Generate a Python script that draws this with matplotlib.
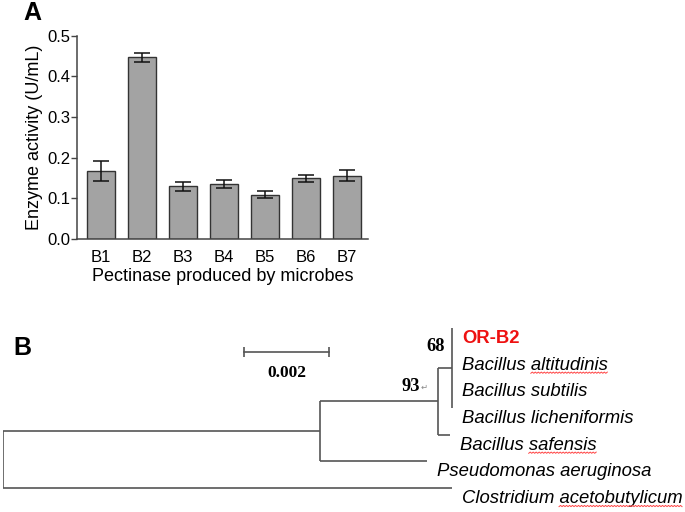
"""Pectinase activity bar chart (A) and 16S phylogenetic tree (B)."""

import matplotlib

matplotlib.use("Agg")
import matplotlib.pyplot as plt
import numpy as np
from matplotlib.lines import Line2D
from matplotlib.transforms import IdentityTransform

plt.rcParams["font.family"] = ["Liberation Sans", "DejaVu Sans"]

# ---- panel A data ----
strains = ["B1", "B2", "B3", "B4", "B5", "B6", "B7"]
activity = [0.168, 0.447, 0.130, 0.136, 0.109, 0.149, 0.156]
activity_err = [0.025, 0.011, 0.011, 0.010, 0.008, 0.008, 0.013]
y_ticks = [0.0, 0.1, 0.2, 0.3, 0.4, 0.5]

# ---- panel B data ----
# leaves top to bottom
leaves = [
    "OR-B2",
    "Bacillus altitudinis",
    "Bacillus subtilis",
    "Bacillus licheniformis",
    "Bacillus safensis",
    "Pseudomonas aeruginosa",
    "Clostridium acetobutylicum",
]
# (parent, child, branch length)
edges = [
    ("root", "n1", 0.00746),
    ("root", "Clostridium acetobutylicum", 0.01056),
    ("n1", "n93", 0.00278),
    ("n1", "Pseudomonas aeruginosa", 0.00252),
    ("n93", "n68", 0.00033),
    ("n93", "Bacillus safensis", 0.00028),
    ("n68", "OR-B2", 0.0),
    ("n68", "Bacillus altitudinis", 0.0),
    ("n68", "Bacillus subtilis", 0.0),
    ("n68", "Bacillus licheniformis", 0.0),
]
bootstrap = {"n68": "68", "n93": "93"}
# words carrying the word-processor spell-check squiggle
squiggled = {
    "Bacillus altitudinis": "Bacillus ",
    "Bacillus safensis": "Bacillus ",
    "Clostridium acetobutylicum": "Clostridium ",
}
scale_len = 0.002

fig = plt.figure(figsize=(6.85, 5.12), dpi=100)

# ================= A =================
ax = fig.add_axes([77 / 685, 1 - 239 / 512, 291 / 685, 203.3 / 512])
x = range(len(strains))
ax.bar(x, activity, width=0.68, color="#a3a3a3", edgecolor="#333333", linewidth=1.0)
ax.errorbar(x, activity, yerr=activity_err, fmt="none", ecolor="#111111",
            elinewidth=1.1, capsize=6, capthick=1.1)
ax.set_xlim(-0.585, 6.51)
ax.set_ylim(0, 0.5)
ax.set_yticks(y_ticks)
ax.set_yticklabels([f"{v:.1f}" for v in y_ticks])
ax.set_xticks(list(x))
ax.set_xticklabels(strains)
for side in ("top", "right"):
    ax.spines[side].set_visible(False)
for side in ("left", "bottom"):
    ax.spines[side].set_color("#444444")
    ax.spines[side].set_linewidth(1.1)
ax.tick_params(axis="y", length=4, width=1, color="#444444", pad=1, labelsize=12)
ax.tick_params(axis="x", length=0, pad=8, labelsize=12)
ax.set_ylabel("Enzyme activity (U/mL)", fontsize=13, labelpad=3)
ax.set_xlabel("Pectinase produced by microbes", fontsize=13, labelpad=2)
fig.text(32 / 685, 1 - 13 / 512, "A", fontsize=18, fontweight="bold",
         ha="center", va="center")

# ================= B =================
px_per_unit = 85 / scale_len
axb = fig.add_axes([3 / 685, 0, 682 / 685, 212 / 512])
axb.set_xlim(0, 682 / px_per_unit)
axb.set_ylim(6.9, -1.05)
axb.axis("off")

children = {}
for parent, child, length in edges:
    children.setdefault(parent, []).append((child, length))

xpos, ypos = {}, {}


def layout(node, x0):
    xpos[node] = x0
    if node not in children:
        ypos[node] = leaves.index(node)
        return
    for child, length in children[node]:
        layout(child, x0 + length)
    ys = [ypos[c] for c, _ in children[node]]
    ypos[node] = (min(ys) + max(ys)) / 2


layout("root", 0.0)

line_kw = dict(color="#555555", lw=1.2, solid_capstyle="butt")
for node, kids in children.items():
    ys = [ypos[c] for c, _ in kids]
    axb.plot([xpos[node], xpos[node]], [min(ys), max(ys)], **line_kw)
    for child, _ in kids:
        if xpos[child] > xpos[node]:
            axb.plot([xpos[node], xpos[child]], [ypos[child]] * 2, **line_kw)

leaf_kw = dict(xytext=(7, -7.5), textcoords="offset points", ha="left",
               va="center", fontsize=13.3)
leaf_texts = {}
for name in leaves:
    is_query = name == "OR-B2"
    leaf_texts[name] = axb.annotate(
        name, (xpos[name], ypos[name]), **leaf_kw,
        color="#ee1111" if is_query else "black",
        fontweight="bold" if is_query else "normal",
        fontstyle="normal" if is_query else "italic",
    )

for node, value in bootstrap.items():
    if node == "n68":
        axb.annotate(value, (xpos[node], ypos["OR-B2"]), xytext=(-5, -13),
                     textcoords="offset points", ha="right", va="center",
                     fontsize=13.3, fontweight="bold", family="Liberation Serif")
    else:
        axb.annotate(value, (xpos[node], ypos[node]), xytext=(-13, 11),
                     textcoords="offset points", ha="right", va="center",
                     fontsize=13.3, fontweight="bold", family="Liberation Serif")
        axb.annotate("\u21b5", (xpos[node], ypos[node]), xytext=(-12.5, 10),
                     textcoords="offset points", ha="left", va="center",
                     fontsize=6, color="#888888", family="DejaVu Sans")

# scale bar
sb_x0 = (244 - 3) / px_per_unit
sb_y = (352 - 328) / 26.67
axb.errorbar([sb_x0, sb_x0 + scale_len], [sb_y, sb_y], yerr=0.2, color="#555555",
             elinewidth=1.2, lw=1.2)
axb.text(sb_x0 + scale_len / 2, sb_y + 0.8, f"{scale_len:g}", ha="center",
         va="center", fontsize=12.5, fontweight="bold", family="Liberation Serif")

fig.text(22 / 685, 1 - 348 / 512, "B", fontsize=18, fontweight="bold",
         ha="center", va="center")

# red spell-check squiggles under the flagged species epithets
renderer = fig.canvas.get_renderer()
for name, prefix in squiggled.items():
    txt = leaf_texts[name]
    full = txt.get_window_extent(renderer)
    probe = axb.annotate(prefix, txt.xy, **leaf_kw, fontstyle="italic")
    start = full.x0 + probe.get_window_extent(renderer).width
    probe.remove()
    xs = np.arange(start, full.x1, 1.5)
    ys = full.y0 + 0.5 + np.where(np.arange(len(xs)) % 2, 1.0, -0.2)
    fig.add_artist(Line2D(xs, ys, transform=IdentityTransform(),
                          color="#ff4444", lw=0.7))

fig.savefig("out.png", dpi=100)
